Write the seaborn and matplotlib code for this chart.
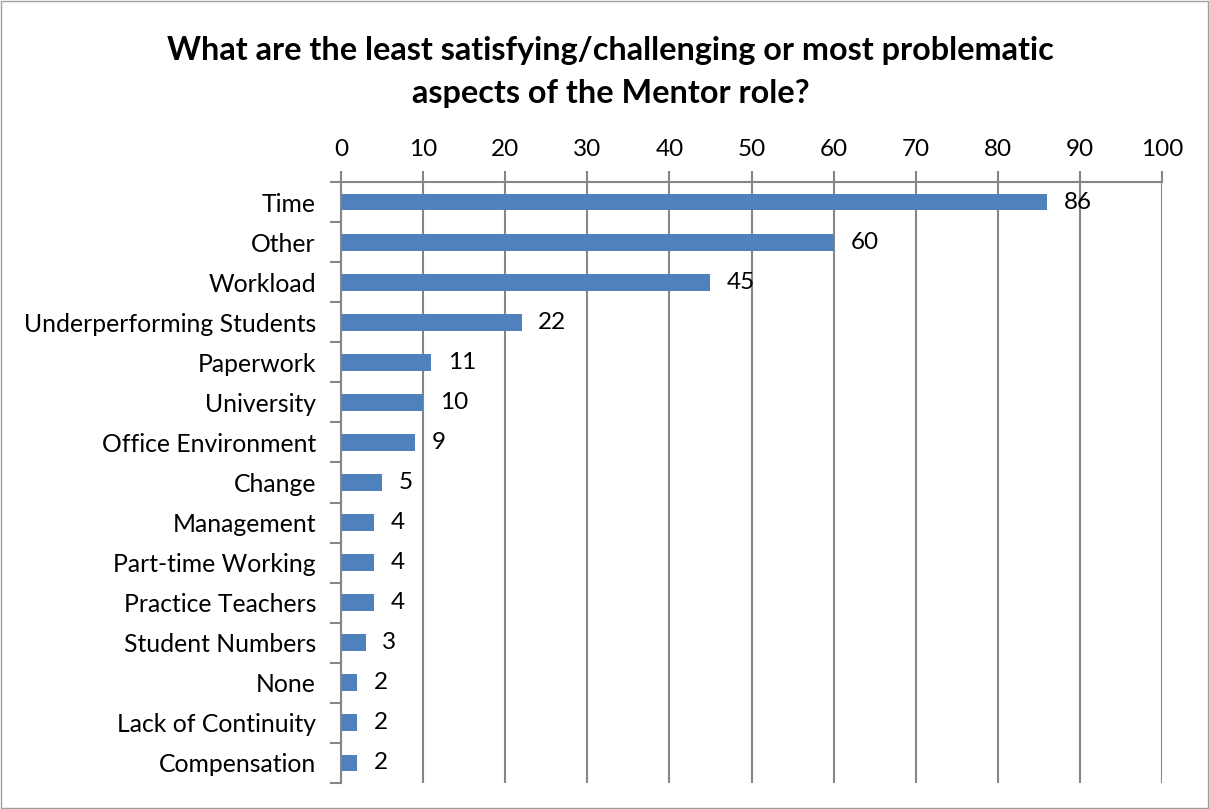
import matplotlib
matplotlib.use("Agg")
import matplotlib.pyplot as plt
import seaborn as sns
import pandas as pd
from matplotlib.patches import Rectangle
from matplotlib.ticker import FixedLocator

categories = ["Time", "Other", "Workload", "Underperforming Students", "Paperwork",
              "University", "Office Environment", "Change", "Management",
              "Part-time Working", "Practice Teachers", "Student Numbers", "None",
              "Lack of Continuity", "Compensation"]
values = [86, 60, 45, 22, 11, 10, 9, 5, 4, 4, 4, 3, 2, 2, 2]
x_ticks = list(range(0, 101, 10))
title = "What are the least satisfying/challenging or most problematic\naspects of the Mentor role?"

sns.set_theme(style="white")
plt.rcParams['font.family'] = ['Lato', 'DejaVu Sans']
plt.rcParams['text.color'] = 'black'
plt.rcParams['xtick.color'] = 'black'
plt.rcParams['ytick.color'] = 'black'

df = pd.DataFrame({"category": categories, "value": values})

fig = plt.figure(figsize=(12.09, 8.09), dpi=100)
ax = fig.add_axes([341/1209, 1-783/809, (1162-341)/1209, (783-182)/809])

sns.barplot(data=df, x="value", y="category", orient="h", color="#4F81BD",
            saturation=1, width=0.42, ax=ax, edgecolor="none")

ax.set_xlim(0, 100)
ax.set_ylim(len(categories) - 0.5, -0.5)
ax.xaxis.tick_top()
ax.xaxis.set_label_position("top")
ax.set_xticks(x_ticks)
ax.set_xticklabels([str(t) for t in x_ticks], fontsize=17.5)
ax.set_xlabel("")
ax.set_ylabel("")
ax.tick_params(axis="x", which="major", length=8, width=1.5, color="#868686", pad=8,
               top=True, bottom=False, labelcolor="black")
ax.yaxis.set_minor_locator(FixedLocator([i - 0.5 for i in range(len(categories) + 1)]))
ax.tick_params(axis="y", which="major", length=0, labelsize=17.8, pad=18, labelcolor="black")
ax.tick_params(axis="y", which="minor", length=8, width=1.5, color="#868686", left=True)
ax.grid(axis="x", color="#868686", linewidth=1.5)
ax.set_axisbelow(True)
for side in ["bottom", "right"]:
    ax.spines[side].set_visible(False)
for side in ["top", "left"]:
    ax.spines[side].set_color("#868686")
    ax.spines[side].set_linewidth(1.5)

for container in ax.containers:
    ax.bar_label(container, labels=[str(v) for v in values], padding=12, fontsize=17.5,
                 color="black")

fig.text(0.505, 1 - 72/809, title, ha="center", va="center", fontsize=23.3,
         fontweight="bold", linespacing=1.55, color="black")

fig.patches.append(Rectangle((0.001, 0.001), 0.998, 0.998, transform=fig.transFigure,
                             fill=False, edgecolor="#A0A0A0", linewidth=1))

fig.savefig("out.png", dpi=100)
